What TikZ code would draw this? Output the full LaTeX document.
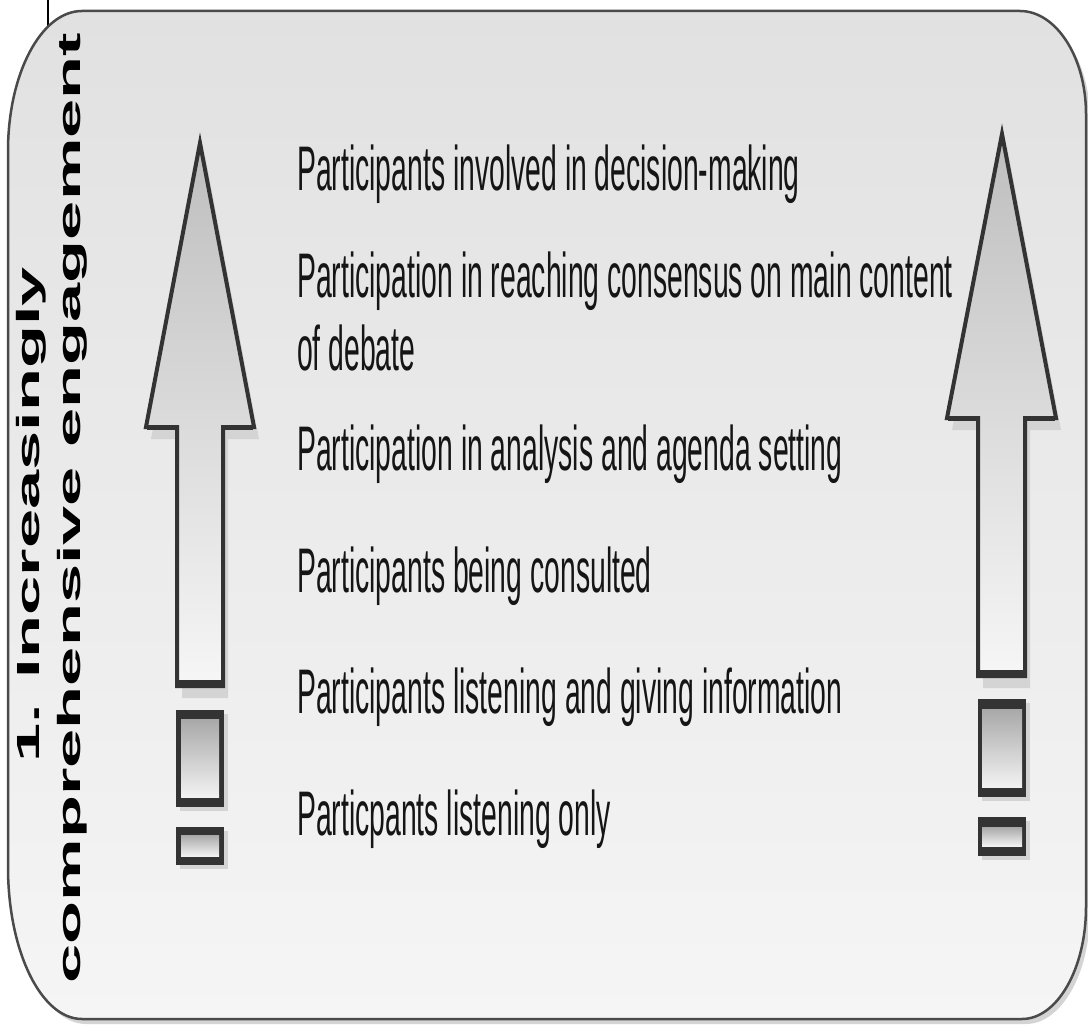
\documentclass[tikz,border=0pt]{standalone}
\usepackage{fontspec}
\setmainfont{Liberation Sans}
\newfontfamily\condfont[FakeStretch=0.45]{Liberation Sans}
\newfontfamily\widefont[FakeStretch=2.2]{Liberation Sans}
\definecolor{boxtop}{HTML}{E1E1E1}
\definecolor{boxbot}{HTML}{F5F5F5}
\definecolor{boxedge}{HTML}{4A4A4A}
\definecolor{shadowc}{HTML}{D4D4D4}
\definecolor{darkedge}{HTML}{333333}
\definecolor{arrtop}{HTML}{BEBEBE}
\definecolor{arrbot}{HTML}{F6F6F6}
\definecolor{recttop}{HTML}{A8A8A8}
\definecolor{rectbot}{HTML}{F2F2F2}
\definecolor{textc}{HTML}{151515}
\tikzset{
  lbl/.style={anchor=base west, inner sep=0pt, text=textc,
    font=\condfont\fontsize{63}{73}\selectfont},
  rotlbl/.style={anchor=base, inner sep=0pt, rotate=90, text=black,
    font=\widefont\bfseries\fontsize{32}{38}\selectfont},
  arrowshade/.style={top color=arrtop, bottom color=arrbot},
  arrowedge/.style={draw=darkedge, line width=4pt, line join=miter},
  rectshade/.style={top color=recttop, bottom color=rectbot},
}
\begin{document}
\begin{tikzpicture}[x=1pt,y=-1pt]
\useasboundingbox (0,0) rectangle (1088,1030);
\fill[white] (0,0) rectangle (1088,1030);
% thin line at top left
\draw[black, line width=1.5pt] (48,0) -- (48,27);
% box shadow
\fill[shadowc, shift={(4,5)}] (82,11) -- (1020,11) .. controls (1056,11) and (1086,57) .. (1086,114) -- (1086,907) .. controls (1086,969) and (1057,1019) .. (1022,1019) -- (82,1019) .. controls (41,1019) and (8,951) .. (8,867) -- (8,151) .. controls (8,74) and (41,11) .. (82,11) -- cycle;
% box
\shade[top color=boxtop, bottom color=boxbot, draw=boxedge, line width=2.5pt]
  (82,11) -- (1020,11) .. controls (1056,11) and (1086,57) .. (1086,114) -- (1086,907) .. controls (1086,969) and (1057,1019) .. (1022,1019) -- (82,1019) .. controls (41,1019) and (8,951) .. (8,867) -- (8,151) .. controls (8,74) and (41,11) .. (82,11) -- cycle;

% ---- left arrow ----
\fill[shadowc, shift={(5,12)}] (200,143) -- (254,427) -- (223,427) -- (223,686) -- (177,686) -- (177,427) -- (146,427) -- cycle;
\shade[arrowshade, arrowedge] (200,143) -- (254,427) -- (223,427) -- (223,686) -- (177,686) -- (177,427) -- (146,427) -- cycle;
\draw[darkedge, line width=5pt] (147,427) -- (179,427) (221,427) -- (253,427);
\draw[darkedge, line width=8pt] (175,684) -- (225,684);
% left rectangles
\fill[shadowc] (180,714) rectangle (228,811);
\fill[darkedge] (176,710) rectangle (224,807);
\shade[rectshade] (181,719) rectangle (219,797);
\fill[shadowc] (180,831) rectangle (228,869);
\fill[darkedge] (176,827) rectangle (224,865);
\shade[rectshade] (181,835) rectangle (219,856);

% ---- right arrow ----
\fill[shadowc, shift={(5,12)}] (1002,134) -- (1056,418) -- (1025,418) -- (1025,676) -- (978,676) -- (978,418) -- (947,418) -- cycle;
\shade[arrowshade, arrowedge] (1002,134) -- (1056,418) -- (1025,418) -- (1025,676) -- (978,676) -- (978,418) -- (947,418) -- cycle;
\draw[darkedge, line width=5pt] (948,418) -- (980,418) (1023,418) -- (1055,418);
\draw[darkedge, line width=8pt] (976,674) -- (1027,674);
% right rectangles
\fill[shadowc] (982,703) rectangle (1030,801);
\fill[darkedge] (978,699) rectangle (1026,797);
\shade[rectshade] (982,709) rectangle (1022,787);
\fill[shadowc] (982,821) rectangle (1030,860);
\fill[darkedge] (978,817) rectangle (1026,856);
\shade[rectshade] (982,827) rectangle (1022,846);

% ---- rotated title ----
\node[rotlbl] (title1) at (39,515) {1. Increasingly};
\node[rotlbl] (title2) at (80,508) {comprehensive engagement};

% ---- labels ----
\node[lbl] (l1) at (297,190) {Participants involved in decision-making};
\node[lbl, anchor=north west, align=left] (l2) at (297,252) {Participation in reaching consensus on main content\\of debate};
\node[lbl] (l3) at (297,470) {Participation in analysis and agenda setting};
\node[lbl] (l4) at (297,592) {Participants being consulted};
\node[lbl] (l5) at (297,713) {Participants listening and giving information};
\node[lbl] (l6) at (297,835) {Particpants listening only};
\end{tikzpicture}
\end{document}
